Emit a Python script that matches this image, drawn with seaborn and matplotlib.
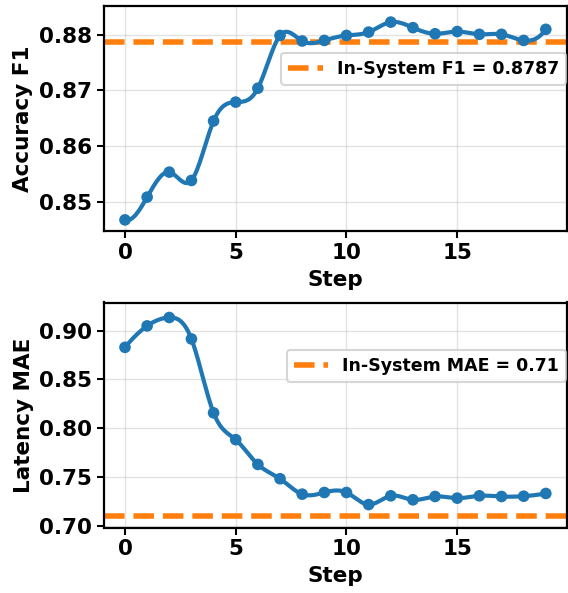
import numpy as np
import matplotlib
matplotlib.use("Agg")
import matplotlib.pyplot as plt
import seaborn as sns

steps = list(range(20))
accuracy_f1 = [0.8467, 0.8508, 0.8553, 0.8538, 0.8645, 0.8679, 0.8704, 0.8799,
               0.8789, 0.8790, 0.8799, 0.8805, 0.8823, 0.8813, 0.8802, 0.8806,
               0.8801, 0.8801, 0.8790, 0.8810]
latency_mae = [0.8828, 0.9048, 0.9134, 0.8914, 0.8156, 0.7881, 0.7627, 0.7480,
               0.7322, 0.7339, 0.7339, 0.7215, 0.7305, 0.7264, 0.7298, 0.7281,
               0.7305, 0.7298, 0.7301, 0.7329]
insystem_f1 = 0.8787
insystem_mae = 0.71
f1_label = "In-System F1 = 0.8787"
mae_label = "In-System MAE = 0.71"


def smooth(x, y, num=300):
    """Not-a-knot cubic spline through the points (rendering only)."""
    x = np.asarray(x, float)
    y = np.asarray(y, float)
    n = len(x)
    h = np.diff(x)
    A = np.zeros((n, n))
    b = np.zeros(n)
    for i in range(1, n - 1):
        A[i, i - 1] = h[i - 1]
        A[i, i] = 2 * (h[i - 1] + h[i])
        A[i, i + 1] = h[i]
        b[i] = 6 * ((y[i + 1] - y[i]) / h[i] - (y[i] - y[i - 1]) / h[i - 1])
    A[0, 0], A[0, 1], A[0, 2] = h[1], -(h[0] + h[1]), h[0]
    A[-1, -3], A[-1, -2], A[-1, -1] = h[-1], -(h[-2] + h[-1]), h[-2]
    M = np.linalg.solve(A, b)
    xs = np.linspace(x[0], x[-1], num)
    idx = np.clip(np.searchsorted(x, xs) - 1, 0, n - 2)
    hi = h[idx]
    a = (x[idx + 1] - xs) / hi
    c = (xs - x[idx]) / hi
    ys = (a * y[idx] + c * y[idx + 1]
          + ((a ** 3 - a) * M[idx] + (c ** 3 - c) * M[idx + 1]) * hi ** 2 / 6)
    return xs, ys


sns.set_style("ticks")
plt.rcParams["font.family"] = ["DejaVu Sans"]
plt.rcParams["font.weight"] = "bold"
plt.rcParams["axes.labelweight"] = "bold"
plt.rcParams["text.color"] = "black"
plt.rcParams["axes.labelcolor"] = "black"
plt.rcParams["xtick.color"] = "black"
plt.rcParams["ytick.color"] = "black"

blue = "#1f77b4"
orange = "#ff7f0e"

fig, axes = plt.subplots(2, 1, figsize=(5.68, 5.93), dpi=100)
axes[0].set_position([0.183, 1 - 231 / 593, 0.815, 225 / 593])
axes[1].set_position([0.183, 1 - 527.5 / 593, 0.815, 225 / 593])

panels = [
    (axes[0], accuracy_f1, insystem_f1, f1_label, "Accuracy F1", (0.8447, 0.8852),
     [0.85, 0.86, 0.87, 0.88], (0.9985, 0.791)),
    (axes[1], latency_mae, insystem_mae, mae_label, "Latency MAE", (0.698, 0.9288),
     [0.70, 0.75, 0.80, 0.85, 0.90], (0.9985, 0.789)),
]

for ax, vals, ref, lab, ylab, ylim, yticks, anchor in panels:
    xs, ys = smooth(steps, vals)
    sns.lineplot(x=xs, y=ys, ax=ax, color=blue, linewidth=3, zorder=3)
    sns.scatterplot(x=steps, y=vals, ax=ax, color=blue, s=70, edgecolor="none", zorder=4)
    ax.axhline(ref, color=orange, linestyle="--", linewidth=4, label=lab, zorder=2)
    ax.set_xlim(-0.95, 19.95)
    ax.set_ylim(*ylim)
    ax.set_yticks(yticks)
    ax.set_xticks([0, 5, 10, 15])
    ax.set_yticklabels([f"{t:.2f}" for t in yticks])
    ax.set_xlabel("Step", fontsize=15.5, fontweight="bold", labelpad=5, color="black")
    ax.set_ylabel(ylab, fontsize=15.5, fontweight="bold", color="black")
    ax.tick_params(labelsize=15.5, width=1.5, length=5, colors="black")
    for lbl in ax.get_xticklabels() + ax.get_yticklabels():
        lbl.set_fontweight("bold")
    for sp in ax.spines.values():
        sp.set_visible(True)
        sp.set_linewidth(1.6)
        sp.set_color("black")
    ax.grid(True, color="#b0b0b0", alpha=0.35, linewidth=1)
    leg = ax.legend(loc="upper right", bbox_to_anchor=anchor, borderaxespad=0,
                    prop={"weight": "bold", "size": 12.5}, framealpha=0.8,
                    edgecolor="#cccccc")
    leg.get_frame().set_linewidth(1.5)
    for t in leg.get_texts():
        t.set_color("black")

fig.savefig("out.png", dpi=100)
